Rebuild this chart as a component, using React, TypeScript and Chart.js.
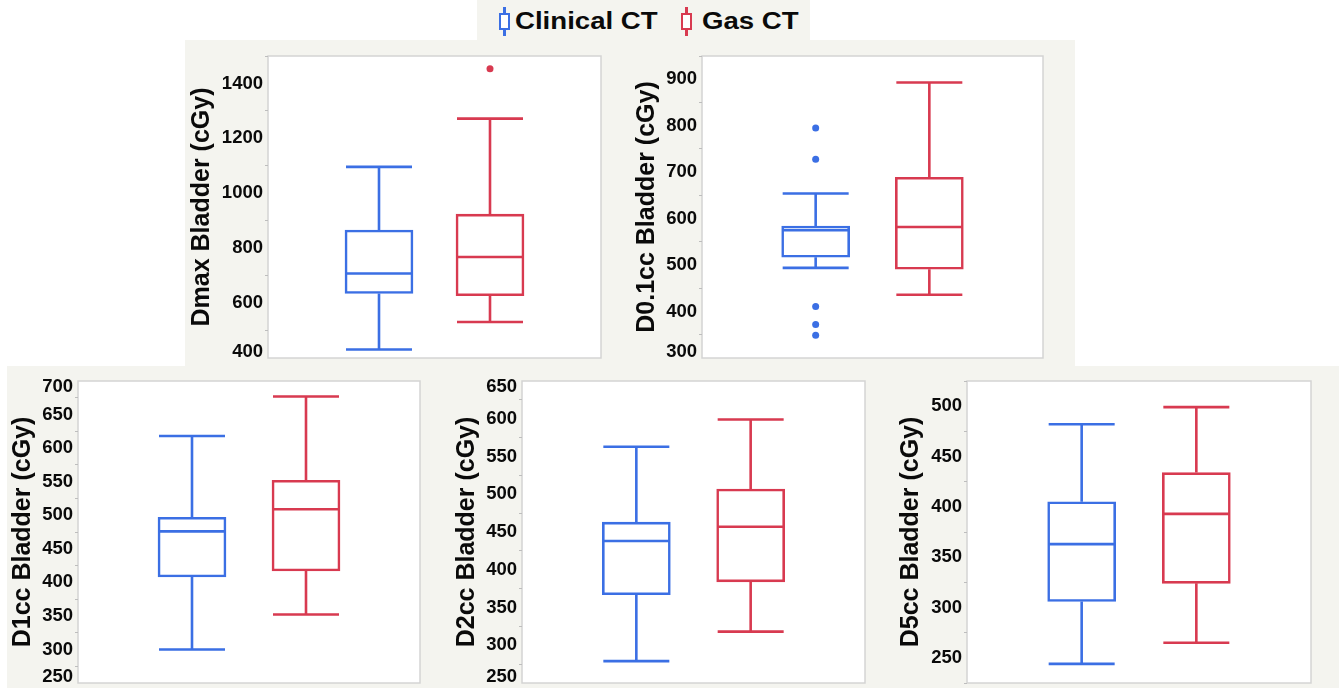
import React, { useEffect, useRef } from 'react';
import { Chart, registerables } from 'chart.js';

Chart.register(...registerables);

const FONT = '"Liberation Sans", Arial, Helvetica, sans-serif';
const BLUE = '#3b6fe4';
const RED = '#d83a50';
const PANEL_BG = '#f4f4ef';
const TEXT = '#0a0a0a';

// ---- data ----
const groups = ['Clinical CT', 'Gas CT'];
const panelTitles = [
  'Dmax Bladder (cGy)',
  'D0.1cc Bladder (cGy)',
  'D1cc Bladder (cGy)',
  'D2cc Bladder (cGy)',
  'D5cc Bladder (cGy)',
];

const clinicalMin = [431, 494, 300, 279, 244];
const clinicalQ1 = [635, 517, 408, 367, 306];
const clinicalMedian = [708, 575, 476, 438, 363];
const clinicalQ3 = [866, 584, 497, 463, 405];
const clinicalMax = [1096, 654, 618, 563, 482];
const clinicalOutliers = [[], [795, 728, 411, 372, 349], [], [], []];

const gasMin = [531, 436, 352, 318, 265];
const gasQ1 = [627, 491, 417, 384, 324];
const gasMedian = [768, 582, 509, 457, 393];
const gasQ3 = [924, 689, 552, 507, 434];
const gasMax = [1272, 893, 677, 599, 499];
const gasOutliers = [[1454], [], [], [], []];

const axisMin = [400, 300, 250, 250, 225];
const axisMax = [1500, 950, 700, 650, 525];
const tickStep = [100, 50, 25, 25, 25];
const labelStep = [200, 100, 50, 50, 50];

// ---- layout (page pixels) ----
const layouts = [
  { canvas: { left: 185, top: 40, w: 430, h: 325 }, plot: { left: 268, top: 56, right: 601, bottom: 358 } },
  { canvas: { left: 630, top: 40, w: 430, h: 325 }, plot: { left: 702, top: 56, right: 1043, bottom: 358 } },
  { canvas: { left: 6, top: 367, w: 424, h: 321 }, plot: { left: 78, top: 381, right: 420, bottom: 683 } },
  { canvas: { left: 450, top: 367, w: 425, h: 321 }, plot: { left: 522, top: 381, right: 865, bottom: 683 } },
  { canvas: { left: 894, top: 367, w: 430, h: 321 }, plot: { left: 967, top: 381, right: 1311, bottom: 683 } },
];

const LINE_W = 2.6;
const BOX_W = 68;
const CAP_HALF = 33;

function BoxPanel({ index }: { index: number }) {
  const ref = useRef<HTMLCanvasElement | null>(null);
  const lay = layouts[index];

  useEffect(() => {
    const canvas = ref.current;
    if (!canvas) return;
    const min = axisMin[index];
    const max = axisMax[index];
    const lstep = labelStep[index];
    const stats = [
      { lo: clinicalMin[index], q1: clinicalQ1[index], med: clinicalMedian[index], q3: clinicalQ3[index], hi: clinicalMax[index], out: clinicalOutliers[index], color: BLUE },
      { lo: gasMin[index], q1: gasQ1[index], med: gasMedian[index], q3: gasQ3[index], hi: gasMax[index], out: gasOutliers[index], color: RED },
    ];
    const yAxisWidth = lay.plot.left - lay.canvas.left;
    const pad = {
      left: 0,
      top: lay.plot.top - lay.canvas.top,
      right: lay.canvas.left + lay.canvas.w - lay.plot.right,
      bottom: lay.canvas.top + lay.canvas.h - lay.plot.bottom,
    };

    const boxPlugin = {
      id: 'boxParts',
      beforeDraw(chart: any) {
        const { ctx, chartArea: a } = chart;
        ctx.save();
        ctx.fillStyle = '#ffffff';
        ctx.fillRect(a.left, a.top, a.right - a.left, a.bottom - a.top);
        ctx.strokeStyle = '#d4d4d4';
        ctx.lineWidth = 1.5;
        ctx.strokeRect(a.left, a.top, a.right - a.left, a.bottom - a.top);
        ctx.restore();
      },
      afterDatasetsDraw(chart: any) {
        const { ctx } = chart;
        const xs = chart.scales.x;
        const ys = chart.scales.y;
        ctx.save();
        ctx.lineWidth = LINE_W;
        ctx.lineCap = 'butt';
        stats.forEach((s, g) => {
          const cx = xs.getPixelForValue(g + 1);
          const yHi = ys.getPixelForValue(s.hi);
          const yLo = ys.getPixelForValue(s.lo);
          const yQ1 = ys.getPixelForValue(s.q1);
          const yQ3 = ys.getPixelForValue(s.q3);
          const yMed = ys.getPixelForValue(s.med);
          ctx.strokeStyle = s.color;
          ctx.beginPath();
          ctx.moveTo(cx, yQ3);
          ctx.lineTo(cx, yHi);
          ctx.moveTo(cx - CAP_HALF, yHi);
          ctx.lineTo(cx + CAP_HALF, yHi);
          ctx.moveTo(cx, yQ1);
          ctx.lineTo(cx, yLo);
          ctx.moveTo(cx - CAP_HALF, yLo);
          ctx.lineTo(cx + CAP_HALF, yLo);
          ctx.moveTo(cx - BOX_W / 2 + LINE_W / 2, yMed);
          ctx.lineTo(cx + BOX_W / 2 - LINE_W / 2, yMed);
          ctx.stroke();
        });
        ctx.restore();
      },
    };

    const outlierPoints = stats.flatMap((s, g) => s.out.map((v) => ({ x: g + 1, y: v })));
    const outlierColors = stats.flatMap((s) => s.out.map(() => s.color));

    const chart = new Chart(canvas, {
      type: 'bar',
      data: {
        datasets: [
          {
            type: 'bar',
            label: 'box',
            data: stats.map((s, g) => ({ x: g + 1, y: [s.q1, s.q3] })) as any,
            backgroundColor: '#ffffff',
            borderColor: stats.map((s) => s.color),
            borderWidth: LINE_W,
            borderSkipped: false,
            barThickness: BOX_W,
          } as any,
          {
            type: 'scatter',
            label: 'outliers',
            data: outlierPoints,
            pointBackgroundColor: outlierColors,
            backgroundColor: outlierColors,
            pointBorderWidth: 0,
            pointRadius: 3.5,
          } as any,
        ],
      },
      options: {
        animation: false,
        responsive: false,
        maintainAspectRatio: false,
        events: [],
        layout: { padding: pad, autoPadding: false },
        plugins: {
          legend: { display: false },
          tooltip: { enabled: false },
        },
        scales: {
          x: { type: 'linear', min: 0, max: 3, offset: false, display: false, grid: { offset: false } },
          y: {
            type: 'linear',
            min,
            max,
            afterFit: (s: any) => {
              s.width = yAxisWidth;
              s.paddingTop = 0;
              s.paddingBottom = 0;
            },
            border: { display: false },
            grid: {
              display: true,
              drawOnChartArea: false,
              drawTicks: true,
              tickLength: 3,
              tickWidth: 1,
              tickColor: (c: any) => {
                const v = c.tick ? c.tick.value : NaN;
                if (isNaN(v)) return 'rgba(0,0,0,0)';
                return v % lstep !== 0 ? '#bdbdbd' : 'rgba(0,0,0,0)';
              },
            },
            ticks: {
              stepSize: tickStep[index],
              autoSkip: false,
              padding: 2,
              color: TEXT,
              font: (c: any) => {
                const v = c.tick ? c.tick.value : NaN;
                const edge = v === min || v === max;
                return { family: FONT, size: 18.5, weight: 'bold', lineHeight: edge ? '12px' : 1.2 } as any;
              },
              callback: (value: any) => {
                const v = Number(value);
                if (v % lstep !== 0) return '';
                const s = String(v);
                if (v === min) return [s, ''];
                if (v === max) return ['', s];
                return s;
              },
            },
            title: {
              display: true,
              text: panelTitles[index],
              color: TEXT,
              font: { family: FONT, size: 25, weight: 'bold' },
              padding: { top: 2.5, bottom: 0 },
            },
          },
        },
      } as any,
      plugins: [boxPlugin],
    });
    return () => chart.destroy();
  }, [index]);

  return (
    <canvas
      ref={ref}
      width={lay.canvas.w}
      height={lay.canvas.h}
      style={{
        position: 'absolute',
        left: lay.canvas.left,
        top: lay.canvas.top,
        width: lay.canvas.w,
        height: lay.canvas.h,
      }}
    />
  );
}

function LegendIcon({ left, color }: { left: number; color: string }) {
  return (
    <div style={{ position: 'absolute', left, top: 7, width: 11, height: 29 }}>
      <div style={{ position: 'absolute', left: 4.25, top: 0, width: 2.5, height: 29, background: color }} />
      <div
        style={{
          position: 'absolute',
          left: 0,
          top: 6,
          width: 11,
          height: 17,
          boxSizing: 'border-box',
          border: `2.5px solid ${color}`,
          background: '#ffffff',
        }}
      />
    </div>
  );
}

const legendText: React.CSSProperties = {
  position: 'absolute',
  top: 9.8,
  fontFamily: FONT,
  fontWeight: 'bold',
  fontSize: 23,
  lineHeight: '23px',
  color: TEXT,
  whiteSpace: 'nowrap',
  transform: 'scaleX(1.2)',
  transformOrigin: 'left center',
};

export default function App() {
  return (
    <div
      style={{
        position: 'absolute',
        left: 0,
        top: 0,
        width: 1339,
        height: 688,
        background: '#ffffff',
        overflow: 'hidden',
      }}
    >
      <div style={{ position: 'absolute', left: 477, top: 0, width: 333, height: 40, background: PANEL_BG }} />
      <div style={{ position: 'absolute', left: 185, top: 40, width: 890, height: 326, background: PANEL_BG }} />
      <div style={{ position: 'absolute', left: 7, top: 366, width: 1332, height: 322, background: PANEL_BG }} />

      <LegendIcon left={499} color={BLUE} />
      <div style={{ ...legendText, left: 515 }}>{groups[0]}</div>
      <LegendIcon left={681} color={RED} />
      <div style={{ ...legendText, left: 702 }}>{groups[1]}</div>

      {layouts.map((_, i) => (
        <BoxPanel key={i} index={i} />
      ))}
    </div>
  );
}
